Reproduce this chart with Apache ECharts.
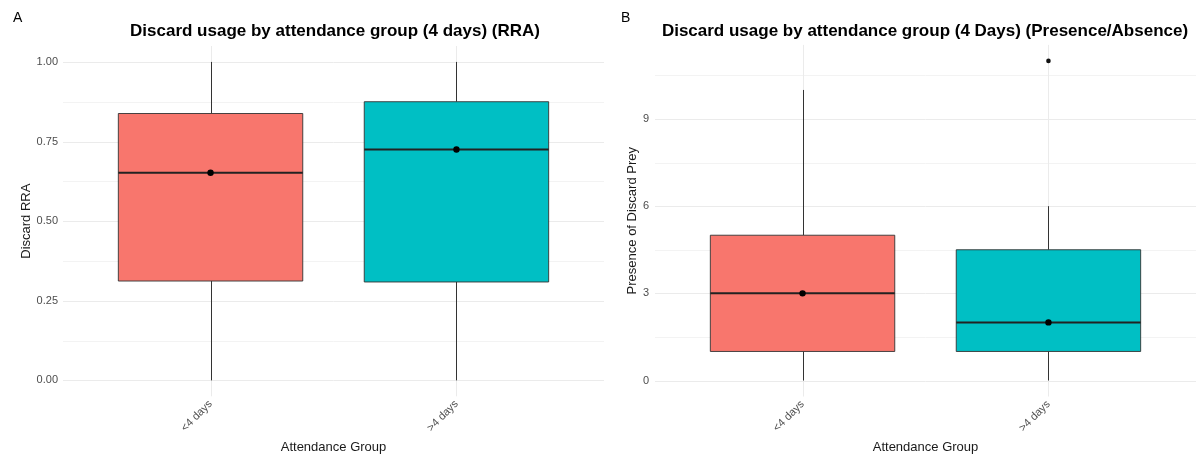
<!DOCTYPE html>
<html>
<head>
<meta charset="utf-8">
<script src="https://cdn.jsdelivr.net/npm/echarts@6/dist/echarts.min.js"></script>
<style>html,body{margin:0;padding:0;background:#fff}#c{width:1198px;height:454px}</style>
</head>
<body>
<div id="c"></div>
<script>
// ---- data ----
const categories = ['<4 days', '>4 days'];
const rraMin = [0, 0];
const rraQ1 = [0.312, 0.309];
const rraMedian = [0.652, 0.725];
const rraQ3 = [0.838, 0.875];
const rraMax = [1, 1];
const rraMean = [0.652, 0.725];
const rraOutliers = [];
const presMin = [0, 0];
const presQ1 = [1, 1];
const presMedian = [3, 2];
const presQ3 = [5, 4.5];
const presMax = [10, 6];
const presMean = [3, 2];
const presOutliers = [[2, 11]];
const rraTicks = [0, 0.25, 0.5, 0.75, 1];
const rraMinorTicks = [0.125, 0.375, 0.625, 0.875];
const presTicks = [0, 3, 6, 9];
const presMinorTicks = [1.5, 4.5, 7.5, 10.5];
const fills = ['#F8766D', '#00BFC4'];

const FONT = 'Liberation Sans, Arial, sans-serif';

function boxData(mn, q1, md, q3, mx, mean) {
  return categories.map((c, i) => [i + 1, mn[i], q1[i], md[i], q3[i], mx[i], mean[i]]);
}

function boxRender(params, api) {
  const x = api.value(0);
  const mn = api.value(1), q1 = api.value(2), md = api.value(3), q3 = api.value(4), mx = api.value(5), mean = api.value(6);
  const w = api.size([0.75, 0])[0];
  const pMin = api.coord([x, mn]), pQ1 = api.coord([x, q1]), pMd = api.coord([x, md]),
        pQ3 = api.coord([x, q3]), pMax = api.coord([x, mx]), pMean = api.coord([x, mean]);
  const cx = Math.round(pMin[0]) + 0.5;
  const idx = params.dataIndex;
  return {
    type: 'group',
    children: [
      { type: 'line', shape: { x1: cx, y1: pQ3[1], x2: cx, y2: pMax[1] }, style: { stroke: '#333', lineWidth: 1 } },
      { type: 'line', shape: { x1: cx, y1: pQ1[1], x2: cx, y2: pMin[1] }, style: { stroke: '#333', lineWidth: 1 } },
      { type: 'rect', shape: { x: pQ3[0] - w / 2, y: pQ3[1], width: w, height: pQ1[1] - pQ3[1] },
        style: { fill: fills[idx], stroke: '#333', lineWidth: 0.9 } },
      { type: 'line', shape: { x1: pMd[0] - w / 2, y1: pMd[1], x2: pMd[0] + w / 2, y2: pMd[1] },
        style: { stroke: '#222', lineWidth: 2 } },
      { type: 'circle', shape: { cx: pMean[0], cy: pMean[1], r: 3.2 }, style: { fill: '#000' } }
    ]
  };
}

function outlierRender(params, api) {
  const p = api.coord([api.value(0), api.value(1)]);
  return { type: 'circle', shape: { cx: p[0], cy: p[1], r: 2.3 }, style: { fill: '#111' } };
}

function hGridRender(color, width) {
  return function (params, api) {
    const cs = params.coordSys;
    const y = Math.round(api.coord([1, api.value(1)])[1]) + 0.5;
    return { type: 'line', shape: { x1: cs.x, y1: y, x2: cs.x + cs.width, y2: y }, style: { stroke: color, lineWidth: width } };
  };
}
function vGridRender(params, api) {
  const cs = params.coordSys;
  const x = Math.round(api.coord([api.value(0), 0])[0]) + 0.5;
  return { type: 'line', shape: { x1: x, y1: cs.y, x2: x, y2: cs.y + cs.height }, style: { stroke: '#ebebeb', lineWidth: 1 } };
}

function gridSeries(gi, major, minor) {
  return [
    { type: 'custom', xAxisIndex: gi, yAxisIndex: gi, z: 0, silent: true, renderItem: hGridRender('#f3f3f3', 1), data: minor.map(v => [1, v]) },
    { type: 'custom', xAxisIndex: gi, yAxisIndex: gi, z: 0, silent: true, renderItem: hGridRender('#ebebeb', 1), data: major.map(v => [1, v]) },
    { type: 'custom', xAxisIndex: gi, yAxisIndex: gi, z: 0, silent: true, renderItem: vGridRender, data: categories.map((c, i) => [i + 1, 0]) }
  ];
}

const xAxisCommon = {
  type: 'value', min: 0.4, max: 2.6,
  axisLine: { show: false }, axisTick: { show: false }, splitLine: { show: false },
  axisLabel: {
    customValues: [1, 2], rotate: 45, margin: 6, color: '#4d4d4d', fontSize: 11, fontFamily: FONT,
    formatter: v => categories[Math.round(v) - 1]
  },
  name: 'Attendance Group', nameLocation: 'middle', nameGap: 42,
  nameTextStyle: { color: '#1a1a1a', fontSize: 13, fontFamily: FONT }
};

const option = {
  animation: false,
  backgroundColor: '#fff',
  title: [
    { text: 'A', left: 8, top: 6, textStyle: { fontSize: 14, fontWeight: 'normal', color: '#000', fontFamily: FONT } },
    { text: 'B', left: 616, top: 6, textStyle: { fontSize: 14, fontWeight: 'normal', color: '#000', fontFamily: FONT } },
    { text: 'Discard usage by attendance group (4 days) (RRA)', left: 330, top: 18, textAlign: 'center',
      textStyle: { fontSize: 17, fontWeight: 'bold', color: '#000', fontFamily: FONT } },
    { text: 'Discard usage by attendance group (4 Days) (Presence/Absence)', left: 920, top: 18, textAlign: 'center',
      textStyle: { fontSize: 17, fontWeight: 'bold', color: '#000', fontFamily: FONT } }
  ],
  grid: [
    { left: 63, top: 46, width: 541, height: 350.3, outerBoundsMode: 'none', containLabel: false },
    { left: 655, top: 44.9, width: 541, height: 351.6, outerBoundsMode: 'none', containLabel: false }
  ],
  xAxis: [
    Object.assign({ gridIndex: 0 }, xAxisCommon),
    Object.assign({ gridIndex: 1 }, xAxisCommon)
  ],
  yAxis: [
    { gridIndex: 0, type: 'value', min: -0.05, max: 1.05,
      axisLine: { show: false }, axisTick: { show: false, customValues: rraTicks }, splitLine: { show: false },
      axisLabel: { customValues: rraTicks, margin: 5, color: '#4d4d4d', fontSize: 11, fontFamily: FONT, formatter: v => v.toFixed(2) },
      name: 'Discard RRA', nameLocation: 'middle', nameGap: 28,
      nameTextStyle: { color: '#1a1a1a', fontSize: 13, fontFamily: FONT } },
    { gridIndex: 1, type: 'value', min: -0.55, max: 11.55,
      axisLine: { show: false }, axisTick: { show: false, customValues: presTicks }, splitLine: { show: false },
      axisLabel: { customValues: presTicks, margin: 6, color: '#4d4d4d', fontSize: 11, fontFamily: FONT, formatter: v => String(Math.round(v)) },
      name: 'Presence of Discard Prey', nameLocation: 'middle', nameGap: 15,
      nameTextStyle: { color: '#1a1a1a', fontSize: 13, fontFamily: FONT } }
  ],
  series: [
    ...gridSeries(0, rraTicks, rraMinorTicks),
    ...gridSeries(1, presTicks, presMinorTicks),
    { type: 'custom', xAxisIndex: 0, yAxisIndex: 0, z: 2, renderItem: boxRender,
      data: boxData(rraMin, rraQ1, rraMedian, rraQ3, rraMax, rraMean) },
    { type: 'custom', xAxisIndex: 1, yAxisIndex: 1, z: 2, renderItem: boxRender,
      data: boxData(presMin, presQ1, presMedian, presQ3, presMax, presMean) },
    { type: 'custom', xAxisIndex: 0, yAxisIndex: 0, z: 3, renderItem: outlierRender, data: rraOutliers },
    { type: 'custom', xAxisIndex: 1, yAxisIndex: 1, z: 3, renderItem: outlierRender, data: presOutliers }
  ]
};

const chart = echarts.init(document.getElementById('c'), null, { renderer: 'canvas' });
chart.setOption(option);
</script>
</body>
</html>
